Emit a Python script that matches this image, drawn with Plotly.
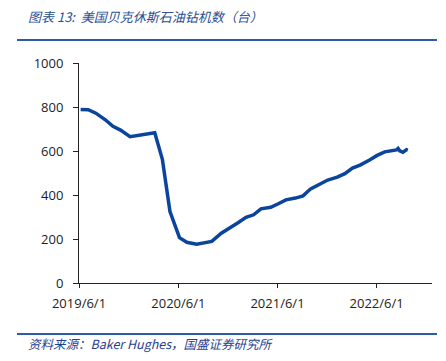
import plotly.graph_objects as go

dates = [
    "2019-06-07", "2019-07-05", "2019-08-02", "2019-09-06", "2019-10-04", "2019-11-01",
    "2019-12-06", "2020-01-03", "2020-02-07", "2020-03-06", "2020-04-03", "2020-05-01",
    "2020-06-05", "2020-07-02", "2020-08-07", "2020-09-04", "2020-10-02", "2020-11-06",
    "2020-12-04", "2021-01-08", "2021-02-05", "2021-03-05", "2021-04-01", "2021-05-07",
    "2021-06-04", "2021-07-02", "2021-08-06", "2021-09-03", "2021-10-01", "2021-11-05",
    "2021-12-03", "2022-01-07", "2022-02-04", "2022-03-04", "2022-04-01", "2022-05-06",
    "2022-06-03", "2022-07-01", "2022-08-05", "2022-08-13", "2022-08-19", "2022-08-25",
    "2022-09-06", "2022-09-19", "2022-09-24",
]
rigs = [
    789, 788, 772, 742, 712, 695,
    665, 670, 676, 683, 562, 325,
    206, 185, 176, 181, 189, 226,
    246, 275, 299, 310, 337, 344,
    360, 378, 386, 396, 428, 452,
    468, 481, 497, 522, 536, 559,
    580, 596, 602, 605, 612, 601,
    594, 606, 604,
]
x_ticks = ["2019-06-01", "2020-06-01", "2021-06-01", "2022-06-01"]
x_tick_labels = ["2019/6/1", "2020/6/1", "2021/6/1", "2022/6/1"]
y_ticks = [0, 200, 400, 600, 800, 1000]

title_text = "<i>图表 13:  美国贝克休斯石油钻机数（台）</i>"
source_text = "<i>资料来源：Baker Hughes，国盛证券研究所</i>"

fig = go.Figure()
fig.add_trace(go.Scatter(
    x=dates, y=rigs, mode="lines",
    line=dict(color="#0b449c", width=3.5),
    hoverinfo="skip", showlegend=False,
))

tick_font = dict(family="Open Sans, Liberation Sans, sans-serif", size=13, color="#222222")

# page body has an 8px margin, so the figure is laid out 8px smaller
W, H = 438, 353
L, R, T, B = 71, 14, 55, 78
pw = W - L - R
ph = H - T - B

def px_x(px):
    return (px - 8 - L) / pw

def px_y(py):
    return (H - B - (py - 8)) / ph

fig.update_layout(
    width=W, height=H,
    margin=dict(l=L, r=R, t=T, b=B),
    paper_bgcolor="white", plot_bgcolor="white",
    showlegend=False,
    xaxis=dict(
        type="date", range=["2019-06-01", "2022-12-22"],
        tickmode="array", tickvals=x_ticks, ticktext=x_tick_labels,
        showgrid=False, zeroline=False,
        showline=True, linecolor="#222222", linewidth=1,
        ticks="outside", ticklen=4, tickcolor="#222222",
        ticklabelstandoff=4,
        tickfont=tick_font,
    ),
    yaxis=dict(
        range=[0, 1000],
        tickmode="array", tickvals=y_ticks,
        showgrid=False, zeroline=False,
        showline=True, linecolor="#222222", linewidth=1,
        ticks="outside", ticklen=5, tickcolor="#222222",
        ticklabelstandoff=7,
        tickfont=tick_font,
    ),
    annotations=[
        dict(text=title_text, xref="paper", yref="paper",
             x=px_x(26), y=px_y(16), xanchor="left", yanchor="middle", showarrow=False,
             font=dict(family="Noto Sans CJK SC, sans-serif", size=13, color="#2a4f93")),
        dict(text=source_text, xref="paper", yref="paper",
             x=px_x(26), y=px_y(343), xanchor="left", yanchor="middle", showarrow=False,
             font=dict(family="Noto Sans CJK SC, Liberation Sans, sans-serif", size=12.5, color="#1f3f8f")),
    ],
    shapes=[
        dict(type="line", xref="paper", yref="paper", x0=px_x(17), x1=px_x(437),
             y0=px_y(40), y1=px_y(40), line=dict(color="#2e5ca8", width=2)),
        dict(type="line", xref="paper", yref="paper", x0=px_x(17), x1=px_x(437),
             y0=px_y(334), y1=px_y(334), line=dict(color="#2e5ca8", width=2)),
    ],
)

fig.write_html("out.html")
